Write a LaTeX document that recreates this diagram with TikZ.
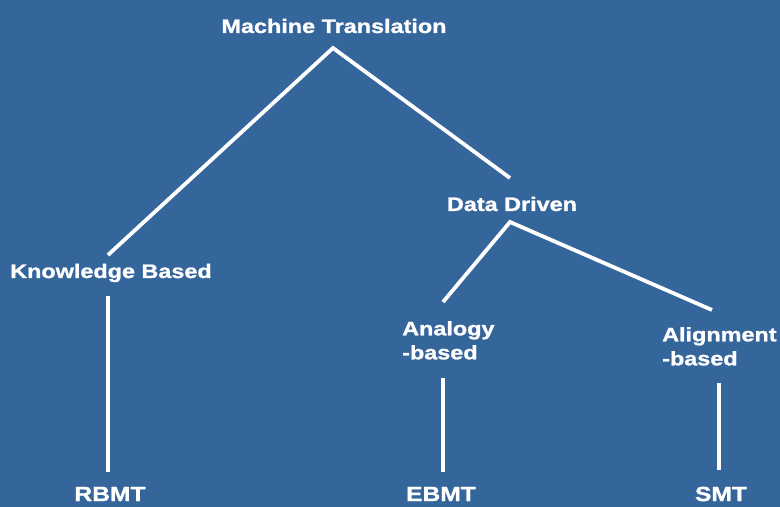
\documentclass[tikz,border=0pt]{standalone}
\usepackage{fontspec}
\setmainfont{Liberation Sans}[FakeStretch=1.2,BoldFeatures={FakeBold=1.2}]
\definecolor{bgblue}{RGB}{52,101,155}
\begin{document}
\begin{tikzpicture}[x=1bp,y=-1bp,
  lbl/.style={text=white,font=\fontsize{19.5bp}{24bp}\selectfont\bfseries,inner sep=0pt},
  lblleft/.style={lbl,align=left,anchor=north west},
  lblbot/.style={lbl,font=\fontsize{20.5bp}{24bp}\selectfont\bfseries},
  conn/.style={draw=white,line width=3.8bp}]
\fill[bgblue] (0,0) rectangle (780,507);
\useasboundingbox (0,0) rectangle (780,507);
\node[lbl] (mt) at (334,26) {Machine Translation};
\node[lbl] (kb) at (111,273) {Knowledge Based};
\node[lbl] (dd) at (512,204) {Data Driven};
\node[lblleft] (ab) at (402,321) {Analogy\\-based};
\node[lblleft] (alb) at (662,327) {Alignment\\-based};
\node[lblbot] (rbmt) at (110,494) {RBMT};
\node[lblbot] (ebmt) at (441,494) {EBMT};
\node[lblbot] (smt) at (721,494) {SMT};
% connector end points
\coordinate (mtj) at (333,48);
\coordinate (kbt) at (108,255);
\coordinate (ddt) at (510,178);
\coordinate (ddj) at (510,222);
\coordinate (abt) at (443,302);
\coordinate (albt) at (712,310);
\coordinate (kbb) at (108,296);
\coordinate (rbt) at (108,472);
\coordinate (abb) at (443,378);
\coordinate (ebt) at (443,472);
\coordinate (albb) at (719,383);
\coordinate (smtt) at (719,470);
\draw[conn] (kbt) -- (mtj) -- (ddt);
\draw[conn] (abt) -- (ddj) -- (albt);
\draw[conn] (kbb) -- (rbt);
\draw[conn] (abb) -- (ebt);
\draw[conn] (albb) -- (smtt);
\end{tikzpicture}
\end{document}
